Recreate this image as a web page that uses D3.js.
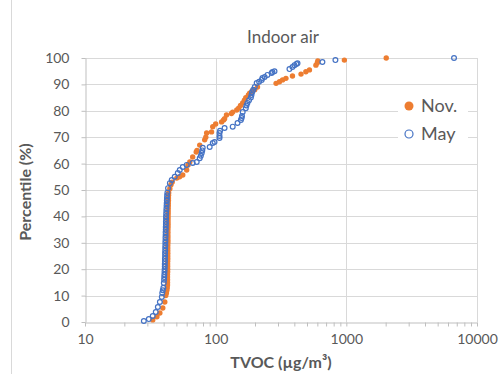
<!DOCTYPE html>
<html><head><meta charset="utf-8">
<script src="https://cdn.jsdelivr.net/npm/d3@7"></script>
<style>body{margin:0;background:#fff}svg{display:block}text{font-family:Lato,"Open Sans",sans-serif}</style>
</head><body><div id="chart"></div>
<script>
const title = "Indoor air";
const xLabel = "TVOC (µg/m³)";
const yLabel = "Percentile (%)";
const seriesNames = ["Nov.", "May"];
const xTickLabels = [10, 100, 1000, 10000];
const yTickValues = [0,10,20,30,40,50,60,70,80,90,100];

// [TVOC µg/m3, percentile %]
const novPoints = [
 [33,0.8],[35.5,2],[37.4,3.4],[39.4,5.3],[40.8,7.6],[41.5,10],
 [42.0,11],[42.3,12],[42.6,13],[42.8,14],[42.8,15],[42.8,16],[42.8,17],[42.8,18],[42.9,19],[42.9,20],
 [42.9,21],[42.9,22],[42.9,23],[43.0,24],[43.0,25],[43.0,26],[43.0,27],[43.0,28],[43.0,29],[43.1,30],
 [43.1,31],[43.1,32],[43.1,33],[43.1,34],[43.1,35],[43.2,36],[43.2,37],[43.2,38],[43.2,39],[43.2,40],
 [43.3,41],[43.3,42],[43.3,43],[43.4,44],[43.4,45],[43.5,46],[43.5,47],[43.6,48],[43.7,49],
 [44.6,50.5],[45.5,52],[46.5,53],[50.4,54.5],[53,55],[56,55.7],[60,57.6],[61.5,59.5],[63.4,60.6],
 [66.7,62.5],[71,64.4],[72,65],[75.5,67],[82.4,69],[84,70],[85.3,71.6],[93,72],[95,74],[100,75],
 [111,75.8],[115,76.5],[117,77],[121,78.4],[132,79],[135,79.5],[145,80.3],[150,81],[155,82],[161,83],
 [166,84],[170,85],[178,86],[182,86.7],[190,87.5],[199,88],[209,89],[290,90.4],[308,91],[325,91.7],
 [345,92.3],[387,93.2],[450,93.9],[490,94.8],[522,95.5],[585,97.3],[600,98.2],[605,98.9],[966,99.2],[2020,100]
];
const mayPoints = [
 [28.2,0.4],[30.8,1.1],[33,2.3],[34.8,3.8],[36.1,5.7],[37.4,7.6],[38.7,9.5],[39.0,11],[39.4,12],[39.8,13],[40.1,14.8],
 [40.3,16],[40.4,17],[40.5,18],[40.6,19],[40.7,20],[40.8,21],[40.8,22],[40.9,23],[40.9,24],[41.0,25],
 [41.0,26],[41.1,27],[41.1,28],[41.2,29],[41.2,30],[41.3,31],[41.3,32],[41.4,33],[41.4,34],[41.5,35],
 [41.5,36],[41.6,37],[41.6,38],[41.7,39],[41.7,40],[41.8,41],[41.9,42],[42.0,43],[42.1,44],[42.2,45],
 [42.3,46],[42.4,47],[42.5,48],[42.7,49],[43.2,50.7],[44.6,52.6],[46.1,53.8],[48.6,55],[51.3,56.4],
 [53.1,57.6],[56,58.7],[60,59.5],[66.7,60.2],[71.6,60.6],[75.5,62],[77,63],[78.2,64],[79,65],[79.6,66],
 [90,66.3],[95,67.8],[98,68.2],[107,69.7],[107,70.5],[107,71.6],[108,72.4],[117,73.5],[135,74],[147,75.4],
 [156,76.5],[158,77.3],[159,78],[161,79.5],[170,81],[172,82],[175,83],[180,84],[186,85],[188,86],
 [190,87],[194,88],[199,89],[206,90.5],[215,91],[225,91.7],[228,92.4],[237,92.8],[249,93.6],[268,94.3],
 [272,94.7],[282,95],[367,95.8],[387,96.6],[401,97.3],[415,97.7],[423,98],[656,98.5],[825,99.2],[6670,100]
];

const W = 504, H = 374;
const orange = "#ED7D31", blue = "#4472C4", grid = "#d9d9d9", txt = "#595959";
const svg = d3.select("#chart").append("svg").attr("width", W).attr("height", H);

const x = d3.scaleLog().domain([10, 10000]).range([85, 477]);
const y = d3.scaleLinear().domain([0, 100]).range([322, 58]);

svg.append("line").attr("x1", 11.5).attr("x2", 11.5).attr("y1", 0).attr("y2", H)
  .attr("stroke", grid).attr("stroke-width", 1);

svg.append("g").selectAll("line").data(yTickValues.filter(d => d > 0)).join("line")
  .attr("x1", x(10)).attr("x2", x(10000))
  .attr("y1", d => Math.round(y(d)) + 0.5).attr("y2", d => Math.round(y(d)) + 0.5)
  .attr("stroke", grid);
svg.append("g").selectAll("line").data(xTickLabels.filter(d => d > 10)).join("line")
  .attr("x1", d => Math.round(x(d)) + 0.5).attr("x2", d => Math.round(x(d)) + 0.5)
  .attr("y1", y(100)).attr("y2", y(0))
  .attr("stroke", grid);

const minorTicks = [];
for (let dec = 10; dec < 10000; dec *= 10) for (let m = 1; m < 10; m++) minorTicks.push(dec * m);
minorTicks.push(10000);
const xAxis = d3.axisBottom(x).tickValues(minorTicks).tickSize(4).tickSizeOuter(0)
  .tickFormat(d => xTickLabels.includes(d) ? d : "");
const gx = svg.append("g").attr("transform", `translate(0,${Math.round(y(0)) + 0.5})`).call(xAxis);
gx.select(".domain").attr("stroke", "#bfbfbf");
gx.selectAll(".tick line").attr("stroke", "#bfbfbf");
gx.selectAll(".tick text").attr("fill", txt).attr("font-size", 14).attr("dy", "1.05em")
  .style("font-family", "Lato, sans-serif");

const yAxis = d3.axisLeft(y).tickValues(yTickValues).tickSize(4).tickSizeOuter(0).tickPadding(12);
const gy = svg.append("g").attr("transform", `translate(${Math.round(x(10)) + 0.5},0)`).call(yAxis);
gy.select(".domain").attr("stroke", "#bfbfbf");
gy.selectAll(".tick line").attr("stroke", "#bfbfbf");
gy.selectAll(".tick text").attr("fill", txt).attr("font-size", 14).style("font-family", "Lato, sans-serif");

svg.append("g").selectAll("circle").data(novPoints).join("circle")
  .attr("cx", d => x(d[0])).attr("cy", d => y(d[1])).attr("r", 2.7).attr("fill", orange);
svg.append("g").selectAll("circle").data(mayPoints).join("circle")
  .attr("cx", d => x(d[0])).attr("cy", d => y(d[1])).attr("r", 2.4)
  .attr("fill", "none").attr("stroke", blue).attr("stroke-width", 1.2);

svg.append("text").attr("x", 283).attr("y", 43).attr("text-anchor", "middle")
  .attr("fill", txt).attr("font-size", 17).text(title);
svg.append("text").attr("x", 281).attr("y", 368).attr("text-anchor", "middle")
  .attr("fill", txt).attr("font-size", 16).attr("font-weight", "bold").text(xLabel);
svg.append("text").attr("transform", "translate(31,192) rotate(-90)").attr("text-anchor", "middle")
  .attr("fill", txt).attr("font-size", 16).attr("font-weight", "bold").text(yLabel);

const lg = svg.append("g");
lg.append("rect").attr("x", 398).attr("y", 93).attr("width", 70).attr("height", 55).attr("fill", "#fff");
lg.append("circle").attr("cx", 409).attr("cy", 106).attr("r", 4.5).attr("fill", orange);
lg.append("circle").attr("cx", 409).attr("cy", 134).attr("r", 4).attr("fill", "none")
  .attr("stroke", blue).attr("stroke-width", 1.2);
lg.append("text").attr("x", 421).attr("y", 112).attr("fill", txt).attr("font-size", 18).text(seriesNames[0]);
lg.append("text").attr("x", 421).attr("y", 140).attr("fill", txt).attr("font-size", 18).text(seriesNames[1]);
</script></body></html>
